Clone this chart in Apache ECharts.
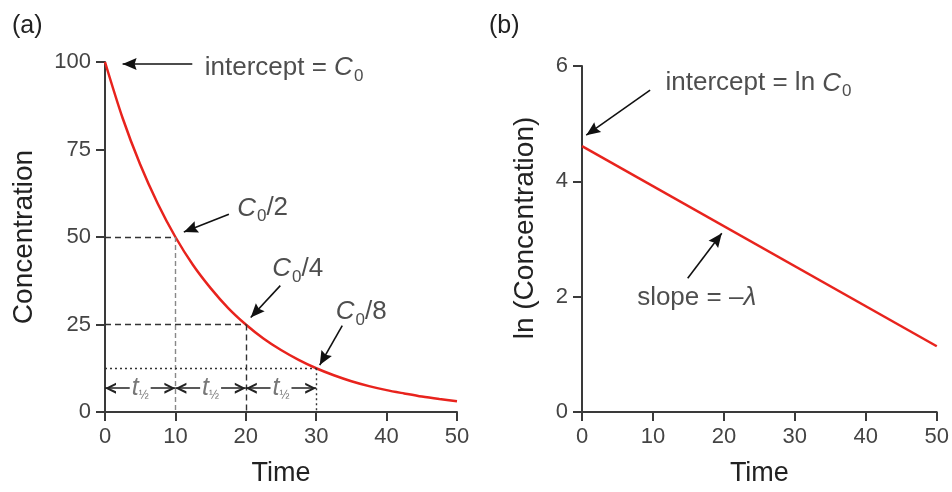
<!DOCTYPE html>
<html>
<head>
<meta charset="utf-8">
<script src="https://cdn.jsdelivr.net/npm/echarts@6/dist/echarts.min.js"></script>
<style>
  html, body { margin: 0; padding: 0; background: #fff; }
  #container { width: 952px; height: 492px; }
</style>
</head>
<body>
<div id="container"></div>
<script>
// panel (a): concentration vs time
var timeVals = [0, 2.5, 5, 7.5, 10, 12.5, 15, 17.5, 20, 22.5, 25, 27.5, 30, 32.5, 35, 37.5, 40, 42.5, 45, 47.5, 50];
var concVals = [100, 84, 70.7, 59.5, 50, 42, 35.4, 29.7, 25, 21, 17.7, 14.9, 12.5, 10.5, 8.8, 7.4, 6.25, 5.3, 4.4, 3.7, 3.1];
// half-life marks
var halfTimes = [10, 20, 30];
var halfConc = [50, 25, 12.5];
// panel (b): ln(concentration), a straight line
var lnTimes = [0, 50];
var lnVals = [4.61, 1.14];

var FONT = 'Liberation Sans, Arial, sans-serif';
var AXIS_COLOR = '#3a3a3a';
var ARROW = 'path://M6,0 L12,14 L6,12 L0,14 Z';
var CHEV = 'path://M0,11 L5,0 L10,11 L7.8,11 L5,4.4 L2.2,11 Z';

var dom = document.getElementById('container');
var myChart = echarts.init(dom);

var rich = {
    n: { fontSize: 26, color: '#222', fontFamily: FONT },
    c: { fontSize: 26, color: '#222', fontStyle: 'italic', fontFamily: FONT },
    s: { fontSize: 17, color: '#222', fontFamily: FONT, padding: [17, 0, 0, 1] },
    t: { fontSize: 25, color: '#777', fontStyle: 'italic', fontFamily: FONT },
    h: { fontSize: 12, color: '#777', fontFamily: FONT, padding: [14, 0, 0, 0] }
};

// annotation texts and where they start (data units)
var annTextA = ['{n|intercept = }{c|C}{s|0}', '{c|C}{s|0}{n|/2}', '{c|C}{s|0}{n|/4}', '{c|C}{s|0}{n|/8}'];
var annPosA = [[14.1, 98.4], [18.7, 58.2], [23.7, 40.8], [32.7, 28.6]];
var annTextB = ['{n|intercept = ln }{c|C}{s|0}', '{n|slope = –}{c|λ}'];
var annPosB = [[11.7, 5.7], [7.7, 1.98]];

function arrow(from, to, color) {
    return [
        { coord: from, symbol: 'none', lineStyle: { color: color || '#111', width: 1.6, type: 'solid' } },
        { coord: to, symbol: ARROW, symbolSize: [12, 14], symbolOffset: [0, 7] }
    ];
}

function guide(from, to, type, color) {
    return [
        { coord: from, symbol: 'none', lineStyle: { color: color, width: 1.4, type: type } },
        { coord: to, symbol: 'none' }
    ];
}

function halfArrow(x0, x1, y) {
    return [
        {
            coord: [x0, y], symbol: CHEV, symbolSize: [11, 11], symbolOffset: [0, 5.5],
            lineStyle: { color: '#222', width: 1.6, type: 'solid' },
            label: {
                show: true, position: 'insideMiddle', formatter: '{t|t}{h|½}',
                rich: rich, backgroundColor: '#fff', padding: [0, 2, 0, 2]
            }
        },
        { coord: [x1, y], symbol: CHEV, symbolSize: [11, 11], symbolOffset: [0, 5.5] }
    ];
}

var marksA = [];
marksA.push(guide([0, halfConc[0]], [halfTimes[0], halfConc[0]], [6, 4], '#333'));
marksA.push(guide([halfTimes[0], halfConc[0]], [halfTimes[0], 0], [5, 3], '#888'));
marksA.push(guide([0, halfConc[1]], [halfTimes[1], halfConc[1]], [6, 4], '#333'));
marksA.push(guide([halfTimes[1], halfConc[1]], [halfTimes[1], 0], [6, 4], '#333'));
marksA.push(guide([0, halfConc[2]], [halfTimes[2], halfConc[2]], [2, 3], '#333'));
marksA.push(guide([halfTimes[2], halfConc[2]], [halfTimes[2], 0], [2, 3], '#333'));
marksA.push(halfArrow(0, 10, 6.8));
marksA.push(halfArrow(10, 20, 6.8));
marksA.push(halfArrow(20, 30, 6.8));
marksA.push(arrow([12.4, 99.4], [2.5, 99.4]));
marksA.push(arrow([17.6, 56.5], [11.2, 51.4]));
marksA.push(arrow([24.9, 36.1], [20.7, 27]));
marksA.push(arrow([33.7, 24.7], [30.5, 13.4]));

var marksB = [];
marksB.push(arrow([9.6, 5.58], [0.6, 4.8]));
marksB.push(arrow([14.9, 2.32], [19.7, 3.1]));

function xAxisFor(idx) {
    return {
        gridIndex: idx, type: 'value', min: 0, max: 50, interval: 10,
        name: 'Time', nameLocation: 'middle', nameGap: 48,
        nameTextStyle: { fontSize: 27, color: '#222', fontFamily: FONT },
        axisLine: { show: true, onZero: false, lineStyle: { color: AXIS_COLOR, width: 2 } },
        axisTick: { show: true, length: 9, lineStyle: { color: AXIS_COLOR, width: 2 } },
        axisLabel: { fontSize: 22, color: '#444', margin: 14, fontFamily: FONT },
        splitLine: { show: false }
    };
}

function yAxisFor(idx, max, interval, name, gap, namePad) {
    return {
        gridIndex: idx, type: 'value', min: 0, max: max, interval: interval,
        name: name, nameLocation: 'middle', nameRotate: 90, nameGap: gap,
        nameTextStyle: { fontSize: 28, color: '#222', fontFamily: FONT, padding: namePad },
        axisLine: { show: true, onZero: false, lineStyle: { color: AXIS_COLOR, width: 2 } },
        axisTick: { show: true, length: 9, lineStyle: { color: AXIS_COLOR, width: 2 } },
        axisLabel: { fontSize: 22, color: '#444', margin: 14, fontFamily: FONT },
        splitLine: { show: false }
    };
}

function annSeries(idx, pos, texts) {
    return {
        type: 'scatter', xAxisIndex: idx, yAxisIndex: idx, z: 10,
        symbolSize: 1, itemStyle: { color: 'transparent' }, silent: true,
        data: pos,
        label: {
            show: true, position: 'right', distance: 0,
            formatter: function (p) { return texts[p.dataIndex]; },
            rich: rich
        }
    };
}

var option = {
    animation: false,
    title: [
        { text: '(a)', left: 7, top: 9, textStyle: { fontSize: 25, fontWeight: 'normal', color: '#222', fontFamily: FONT } },
        { text: '(b)', left: 484, top: 9, textStyle: { fontSize: 25, fontWeight: 'normal', color: '#222', fontFamily: FONT } }
    ],
    grid: [
        { left: 105, top: 62, width: 352, height: 352 },
        { left: 582, top: 66, width: 355, height: 353 }
    ],
    xAxis: [xAxisFor(0), xAxisFor(1)],
    yAxis: [
        yAxisFor(0, 100, 25, 'Concentration', 67, [0, 0, 0, 0]),
        yAxisFor(1, 6, 2, 'ln (Concentration)', 43, [0, 0, 0, 22])
    ],
    series: [
        {
            type: 'line', xAxisIndex: 0, yAxisIndex: 0,
            data: timeVals.map(function (t, i) { return [t, concVals[i]]; }),
            smooth: 0.3, showSymbol: false, silent: true,
            lineStyle: { color: '#e8231d', width: 2.5 },
            markLine: { silent: true, symbol: ['none', 'none'], label: { show: false }, data: marksA }
        },
        {
            type: 'line', xAxisIndex: 1, yAxisIndex: 1,
            data: lnTimes.map(function (t, i) { return [t, lnVals[i]]; }),
            showSymbol: false, silent: true,
            lineStyle: { color: '#e8231d', width: 2.5 },
            markLine: { silent: true, symbol: ['none', 'none'], label: { show: false }, data: marksB }
        },
        annSeries(0, annPosA, annTextA),
        annSeries(1, annPosB, annTextB)
    ]
};

myChart.setOption(option);
</script>
</body>
</html>
